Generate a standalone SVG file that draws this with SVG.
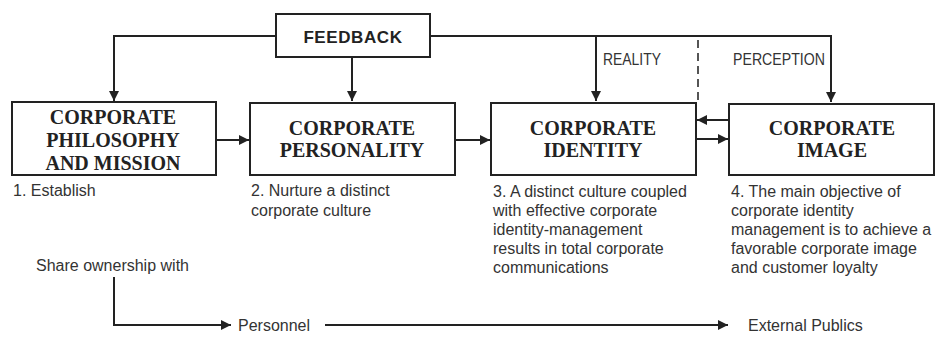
<svg xmlns="http://www.w3.org/2000/svg" width="940" height="338" viewBox="0 0 940 338">
<style>
.box{fill:#fff;stroke:#222;stroke-width:2}
.ln{fill:none;stroke:#222;stroke-width:2}
.dash{fill:none;stroke:#555;stroke-width:2;stroke-dasharray:8 5}
.t{font-family:"Liberation Serif","Times New Roman",serif;font-weight:bold;font-size:20px;fill:#222;text-anchor:middle}
.fb{font-family:"Liberation Sans",Arial,sans-serif;font-weight:bold;font-size:17px;fill:#222;text-anchor:middle;letter-spacing:0.6px}
.s{font-family:"Liberation Sans",Arial,sans-serif;font-size:16px;fill:#333}
.c{font-family:"Liberation Sans",Arial,sans-serif;font-size:17px;fill:#333}
</style>
<defs>
<marker id="ah" viewBox="0 0 10 10" refX="10" refY="5" markerWidth="5" markerHeight="5" orient="auto" markerUnits="strokeWidth">
<path d="M0,0 L10,5 L0,10 z" fill="#222"/>
</marker>
</defs>
<g id="connectors">
<path class="ln" d="M276,36 H114 V101" marker-end="url(#ah)"/>
<path class="ln" d="M352,57 V101" marker-end="url(#ah)"/>
<path class="ln" d="M430,36 H831 V102" marker-end="url(#ah)"/>
<path class="ln" d="M596,36 V101" marker-end="url(#ah)"/>
<path class="dash" d="M698,40 V100"/>
<path class="ln" d="M216,140 H249" marker-end="url(#ah)"/>
<path class="ln" d="M455,140 H490" marker-end="url(#ah)"/>
<path class="ln" d="M696,139 H728" marker-end="url(#ah)"/>
<path class="ln" d="M729,120 H697" marker-end="url(#ah)"/>
<path class="ln" d="M114,277 V325 H231" marker-end="url(#ah)"/>
<path class="ln" d="M325,325 H728" marker-end="url(#ah)"/>
<text class="c" x="603" y="65" textLength="58" lengthAdjust="spacingAndGlyphs">REALITY</text>
<text class="c" x="733" y="65" textLength="92" lengthAdjust="spacingAndGlyphs">PERCEPTION</text>
</g>
<g id="feedback">
<rect class="box" x="276" y="14" width="154" height="43"/>
<text class="fb" x="353" y="43">FEEDBACK</text>
</g>
<g id="philosophy">
<rect class="box" x="12" y="102" width="204" height="73"/>
<text class="t" x="113" y="124">CORPORATE</text>
<text class="t" x="113" y="147">PHILOSOPHY</text>
<text class="t" x="113" y="170">AND MISSION</text>
<text class="s" x="13" y="196">1. Establish</text>
</g>
<g id="personality">
<rect class="box" x="250" y="103" width="205" height="72"/>
<text class="t" x="352" y="135">CORPORATE</text>
<text class="t" x="352" y="157">PERSONALITY</text>
<text class="s" x="251" y="196">2. Nurture a distinct</text>
<text class="s" x="251" y="216">corporate culture</text>
</g>
<g id="identity">
<rect class="box" x="491" y="103" width="205" height="72"/>
<text class="t" x="593" y="135">CORPORATE</text>
<text class="t" x="593" y="157">IDENTITY</text>
<text class="s" x="493" y="197">3. A distinct culture coupled</text>
<text class="s" x="493" y="216">with effective corporate</text>
<text class="s" x="493" y="235">identity-management</text>
<text class="s" x="493" y="254">results in total corporate</text>
<text class="s" x="493" y="273">communications</text>
</g>
<g id="image">
<rect class="box" x="729" y="104" width="205" height="71"/>
<text class="t" x="832" y="135">CORPORATE</text>
<text class="t" x="832" y="157">IMAGE</text>
<text class="s" x="731" y="197">4. The main objective of</text>
<text class="s" x="731" y="216">corporate identity</text>
<text class="s" x="731" y="235">management is to achieve a</text>
<text class="s" x="731" y="254">favorable corporate image</text>
<text class="s" x="731" y="273">and customer loyalty</text>
</g>
<g id="share">
<text class="s" x="36" y="271">Share ownership with</text>
</g>
<g id="personnel">
<text class="s" x="238" y="331">Personnel</text>
</g>
<g id="publics">
<text class="s" x="748" y="331">External Publics</text>
</g>
</svg>
